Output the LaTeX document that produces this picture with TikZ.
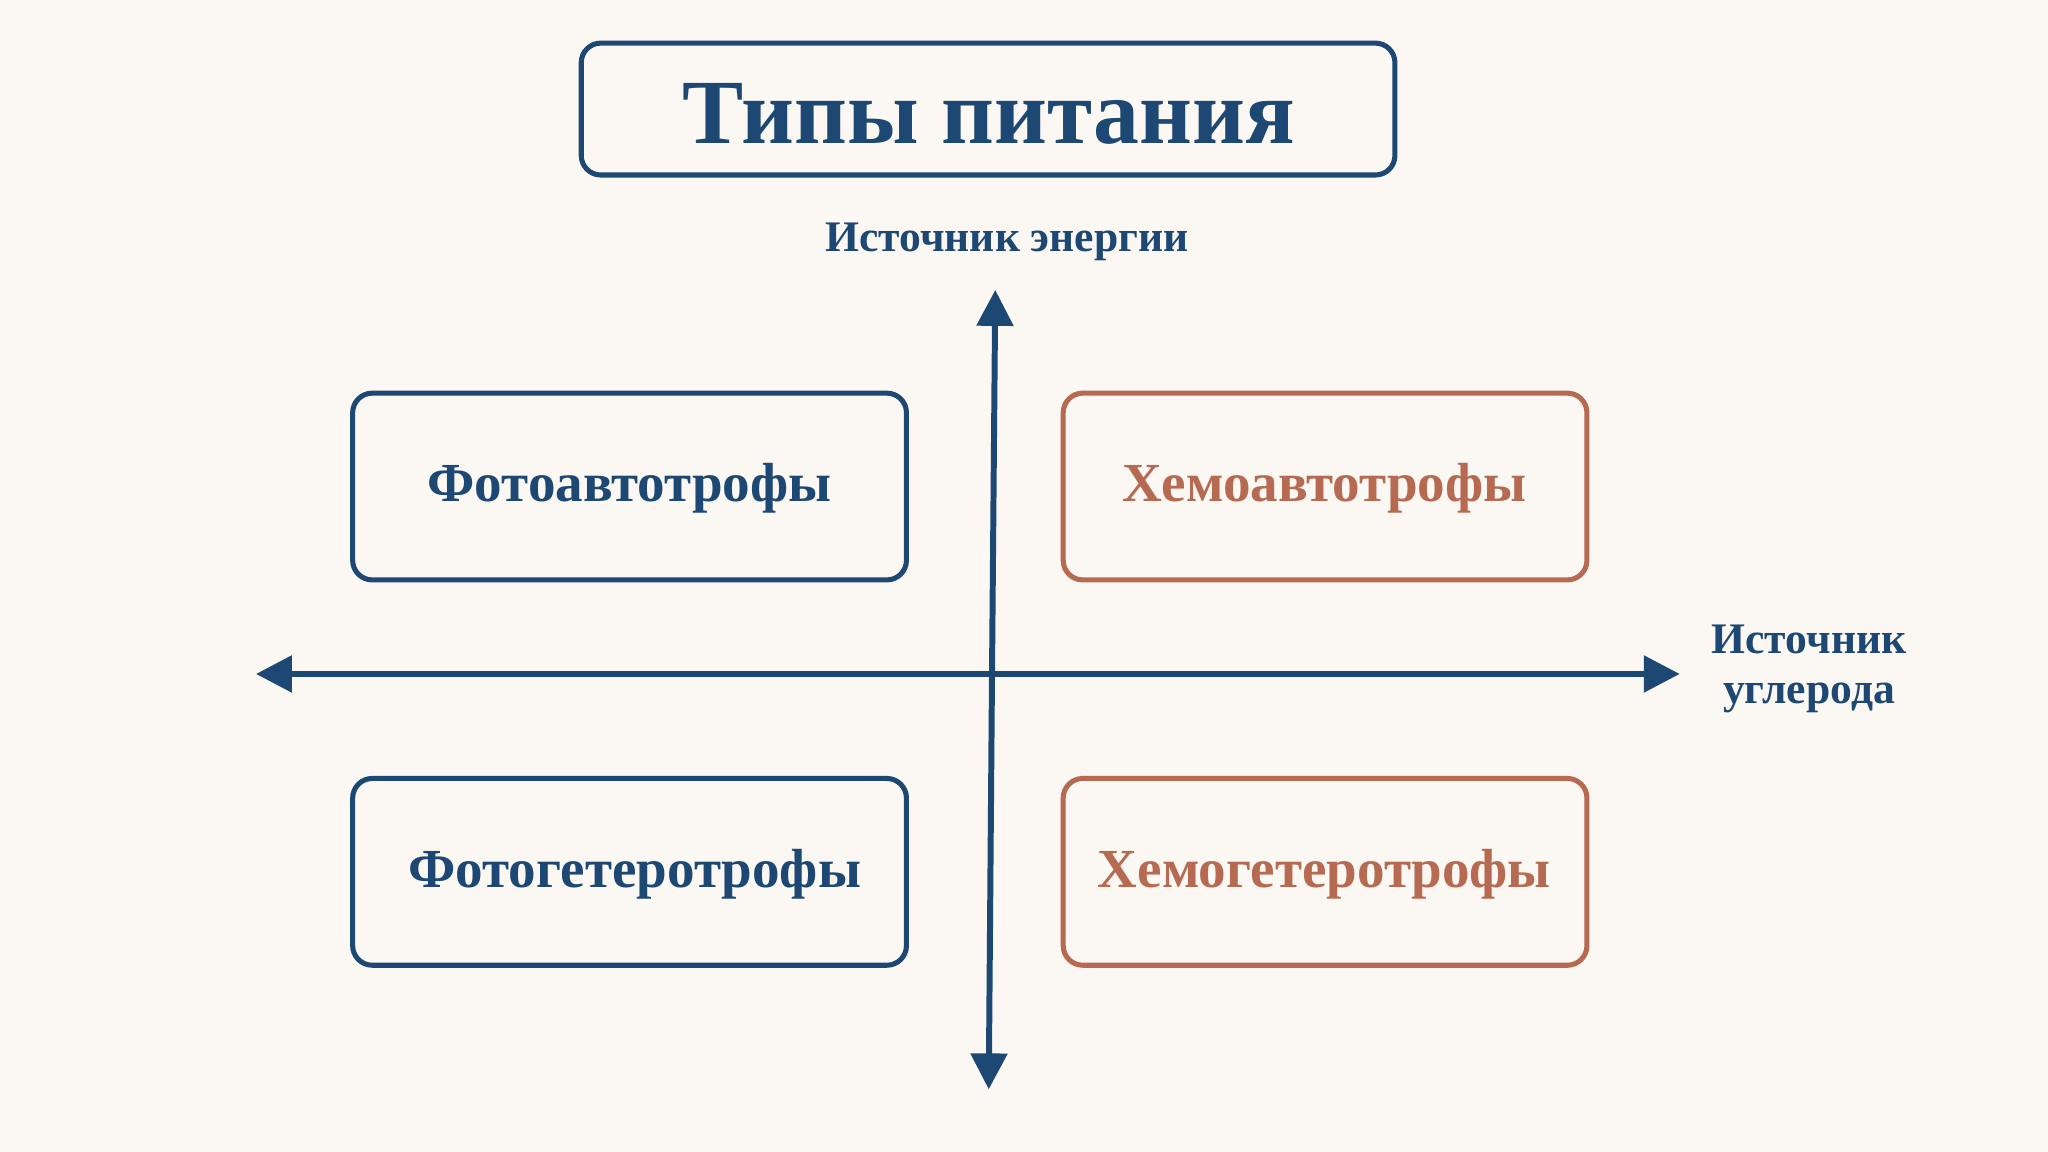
\documentclass[tikz,border=0pt]{standalone}
\usepackage{fontspec}
\setmainfont{Liberation Serif}
\usetikzlibrary{arrows.meta}
\definecolor{bg}{HTML}{FBF7F2}
\definecolor{navy}{HTML}{1D4874}
\definecolor{rust}{HTML}{B66A52}
\begin{document}
\begin{tikzpicture}[x=0.02cm,y=-0.02cm,
  box/.style={draw, line width=2.2pt, rounded corners=0.3cm},
  lab/.style={font=\fontsize{24}{28}\selectfont\bfseries},
  ax/.style={navy, line width=2.6pt, -{Triangle[length=0.55cm,width=0.55cm]}}]
\fill[bg] (0,0) rectangle (1568,882);
\draw[box, navy] (445,33) rectangle (1068,134);
\node[navy, font=\fontsize{40}{44}\selectfont\bfseries] (title) at (757,87) {Типы питания};
\draw[box, navy] (270,301) rectangle (694,444);
\node[lab, navy] (fa) at (482,374) {Фотоавтотрофы};
\draw[box, rust] (814,301) rectangle (1215,444);
\node[lab, rust] (ha) at (1014,374) {Хемоавтотрофы};
\draw[box, navy] (270,596) rectangle (694,739);
\node[lab, navy] (fg) at (486,669) {Фотогетеротрофы};
\draw[box, rust] (814,596) rectangle (1215,739);
\node[lab, rust] (hg) at (1014,669) {Хемогетеротрофы};
\coordinate (c) at (759.5,516);
\coordinate (top) at (762,222);
\coordinate (bot) at (757,834);
\coordinate (left) at (196,516);
\coordinate (right) at (1286,516);
\draw[ax] (c) -- (top);
\draw[ax] (c) -- (bot);
\draw[ax] (c) -- (left);
\draw[ax] (c) -- (right);
\node[navy, font=\fontsize{19}{22}\selectfont\bfseries] (en) at (771,185) {Источник энергии};
\node[navy, font=\fontsize{19}{22}\selectfont\bfseries, align=center] (carb) at (1385,512) {Источник\\углерода};
\end{tikzpicture}
\end{document}
